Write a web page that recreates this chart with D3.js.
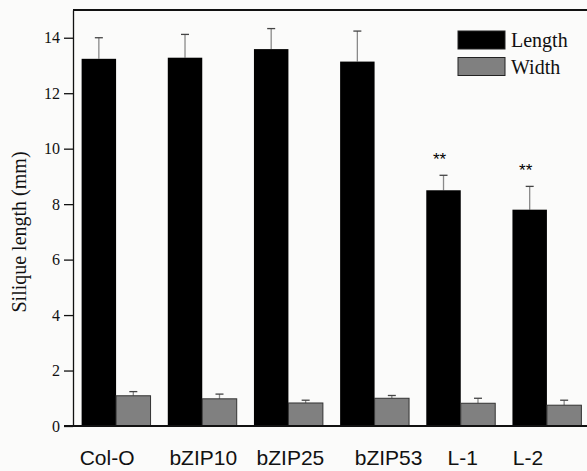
<!DOCTYPE html>
<html>
<head>
<meta charset="utf-8">
<script src="https://cdn.jsdelivr.net/npm/d3@7"></script>
<style>
  html, body { margin: 0; padding: 0; background: #fbfbfa; }
  svg { display: block; }
</style>
</head>
<body>
<div id="chart"></div>
<script>
const lines = ["Col-O", "bZIP10", "bZIP25", "bZIP53", "L-1", "L-2"];
const series = ["Length", "Width"];
const lengthMean = [13.24, 13.28, 13.59, 13.14, 8.50, 7.80];
const lengthErr = [0.76, 0.84, 0.74, 1.10, 0.54, 0.84];
const widthMean = [1.09, 0.98, 0.83, 1.00, 0.82, 0.75];
const widthErr = [0.15, 0.17, 0.10, 0.10, 0.18, 0.18];
const marks = ["", "", "", "", "**", "**"];
const yTicks = [0, 2, 4, 6, 8, 10, 12, 14];

// label placement in the source is hand-set, not centred on the groups
const labelNudge = [-9, 1, 2, 14, 2, -19];

const width = 587;
const height = 471;
const margin = {top: 10, right: -3, bottom: 45, left: 73};
const colors = {Length: "#000000", Width: "#808080"};

const svg = d3.select("#chart")
  .append("svg")
  .attr("width", width)
  .attr("height", height);

const x0 = d3.scaleBand()
  .domain(lines)
  .range([margin.left, width - margin.right])
  .paddingInner(0.2)
  .paddingOuter(0.1);
const x1 = d3.scaleBand()
  .domain(series)
  .range([0, x0.bandwidth()]);
const y = d3.scaleLinear()
  .domain([0, 15])
  .range([height - margin.bottom, margin.top]);

const rows = lines.map((name, i) => ({
  name,
  mark: marks[i],
  vals: [
    {key: "Length", v: lengthMean[i], e: lengthErr[i]},
    {key: "Width", v: widthMean[i], e: widthErr[i]}
  ]
}));

// bars
const grp = svg.append("g").selectAll("g")
  .data(rows)
  .join("g")
    .attr("transform", d => `translate(${x0(d.name)},0)`);

grp.selectAll("line.stem")
  .data(d => d.vals)
  .join("line")
    .attr("class", "stem")
    .attr("x1", d => x1(d.key) + x1.bandwidth() / 2)
    .attr("x2", d => x1(d.key) + x1.bandwidth() / 2)
    .attr("y1", d => y(d.v))
    .attr("y2", d => y(d.v + d.e))
    .attr("stroke", "#8a8a8a")
    .attr("stroke-width", 1.3);
grp.selectAll("line.cap")
  .data(d => d.vals)
  .join("line")
    .attr("class", "cap")
    .attr("x1", d => x1(d.key) + x1.bandwidth() / 2 - 4)
    .attr("x2", d => x1(d.key) + x1.bandwidth() / 2 + 4)
    .attr("y1", d => y(d.v + d.e))
    .attr("y2", d => y(d.v + d.e))
    .attr("stroke", "#444")
    .attr("stroke-width", 1.3);

grp.selectAll("rect")
  .data(d => d.vals)
  .join("rect")
    .attr("x", d => x1(d.key))
    .attr("y", d => y(d.v))
    .attr("width", x1.bandwidth())
    .attr("height", d => y(0) - y(d.v))
    .attr("fill", d => colors[d.key])
    .attr("stroke", d => d.key === "Width" ? "#333" : "none")
    .attr("stroke-width", 1);

// significance marks
grp.append("text")
  .attr("x", x1("Length") + x1.bandwidth() / 2 - 4)
  .attr("y", d => y(d.vals[0].v + d.vals[0].e) - 10)
  .attr("text-anchor", "middle")
  .attr("font-family", "Liberation Sans, Arial, sans-serif")
  .attr("font-size", 17)
  .attr("fill", "#000")
  .text(d => d.mark);

// y axis
const yAxis = svg.append("g")
  .attr("transform", `translate(${margin.left},0)`)
  .call(d3.axisLeft(y).tickValues(yTicks).tickSize(9).tickSizeOuter(0).tickPadding(4));
yAxis.select(".domain").attr("stroke", "#111").attr("stroke-width", 1.3);
yAxis.selectAll(".tick line").attr("stroke", "#111").attr("stroke-width", 1.3);
yAxis.selectAll(".tick text")
  .attr("font-family", "Liberation Serif, Times New Roman, serif")
  .attr("font-size", 16)
  .attr("fill", "#111");

// top frame and baseline
svg.append("line")
  .attr("x1", margin.left).attr("x2", width)
  .attr("y1", y(15)).attr("y2", y(15))
  .attr("stroke", "#111").attr("stroke-width", 2);
svg.append("line")
  .attr("x1", margin.left - 9).attr("x2", width)
  .attr("y1", y(0)).attr("y2", y(0))
  .attr("stroke", "#111").attr("stroke-width", 2);

// category labels
svg.append("g").selectAll("text")
  .data(lines)
  .join("text")
    .attr("x", (d, i) => x0(d) + x0.bandwidth() / 2 + labelNudge[i])
    .attr("y", y(0) + 39)
    .attr("text-anchor", "middle")
    .attr("font-family", "Liberation Sans, Arial, sans-serif")
    .attr("font-size", 21)
    .attr("fill", "#111")
    .text(d => d);

// y title
svg.append("text")
  .attr("transform", `translate(26,232) rotate(-90)`)
  .attr("text-anchor", "middle")
  .attr("font-family", "Liberation Serif, Times New Roman, serif")
  .attr("font-size", 20)
  .attr("fill", "#111")
  .text("Silique length (mm)");

// legend
const legend = svg.append("g")
  .attr("transform", "translate(458,31)")
  .selectAll("g")
  .data(series)
  .join("g")
    .attr("transform", (d, i) => `translate(0,${i * 26.5})`);
legend.append("rect")
  .attr("width", 47)
  .attr("height", 18)
  .attr("fill", d => colors[d])
  .attr("stroke", "#222")
  .attr("stroke-width", 1);
legend.append("text")
  .attr("x", 53)
  .attr("y", 16)
  .attr("font-family", "Liberation Serif, Times New Roman, serif")
  .attr("font-size", 20)
  .attr("fill", "#111")
  .text(d => d);
</script>
</body>
</html>
